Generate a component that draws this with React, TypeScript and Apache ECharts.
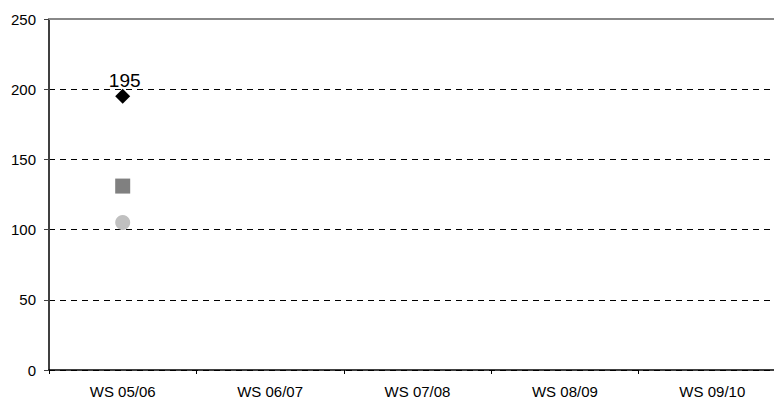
import React, { useEffect, useRef } from "react";
import * as echarts from "echarts";

const semesters = ["WS 05/06", "WS 06/07", "WS 07/08", "WS 08/09", "WS 09/10"];
const seriesA = [195, null, null, null, null];
const seriesB = [131, null, null, null, null];
const seriesC = [105, null, null, null, null];
const yTicks = { min: 0, max: 250, interval: 50 };

const font = "Liberation Sans, Arial, sans-serif";

export default function App() {
  const ref = useRef<HTMLDivElement>(null);

  useEffect(() => {
    if (!ref.current) return;
    const chart = echarts.init(ref.current, null, { renderer: "svg" });
    chart.setOption({
      animation: false,
      backgroundColor: "#ffffff",
      grid: { left: 49, top: 19, width: 737, height: 351, containLabel: false },
      xAxis: [
        {
          type: "category",
          data: semesters,
          boundaryGap: true,
          axisLine: { lineStyle: { color: "#000000", width: 1.5 } },
          axisTick: { show: true, length: 4, lineStyle: { color: "#000000" } },
          axisLabel: { color: "#000000", fontSize: 15, fontFamily: font, margin: 14 },
          splitLine: { show: false },
        },
        {
          type: "category",
          data: semesters,
          position: "top",
          axisLine: { show: true, lineStyle: { color: "#888888", width: 2 } },
          axisTick: { show: false },
          axisLabel: { show: false },
        },
      ],
      yAxis: {
        type: "value",
        min: yTicks.min,
        max: yTicks.max,
        interval: yTicks.interval,
        axisLine: { show: true, lineStyle: { color: "#404040", width: 2 } },
        axisTick: { show: true, length: 5, lineStyle: { color: "#404040" } },
        axisLabel: { color: "#000000", fontSize: 15, fontFamily: font, margin: 13 },
        splitLine: {
          show: true,
          lineStyle: { color: "#000000", type: [6, 5], width: 1 },
        },
      },
      series: [
        {
          type: "line",
          data: seriesA,
          symbol: "diamond",
          symbolSize: 15,
          lineStyle: { width: 0 },
          itemStyle: { color: "#000000" },
          label: {
            show: true,
            position: "top",
            distance: -1,
            offset: [2, 0],
            color: "#000000",
            fontSize: 19,
            fontFamily: font,
          },
        },
        {
          type: "line",
          data: seriesB,
          symbol: "rect",
          symbolSize: 15,
          lineStyle: { width: 0 },
          itemStyle: { color: "#808080" },
        },
        {
          type: "line",
          data: seriesC,
          symbol: "circle",
          symbolSize: 15,
          lineStyle: { width: 0 },
          itemStyle: { color: "#c0c0c0" },
        },
      ],
    });
    return () => chart.dispose();
  }, []);

  return (
    <div style={{ width: 774, height: 403, position: "absolute", left: 0, top: 0, overflow: "hidden" }}>
      <div ref={ref} style={{ width: 800, height: 403 }} />
    </div>
  );
}
